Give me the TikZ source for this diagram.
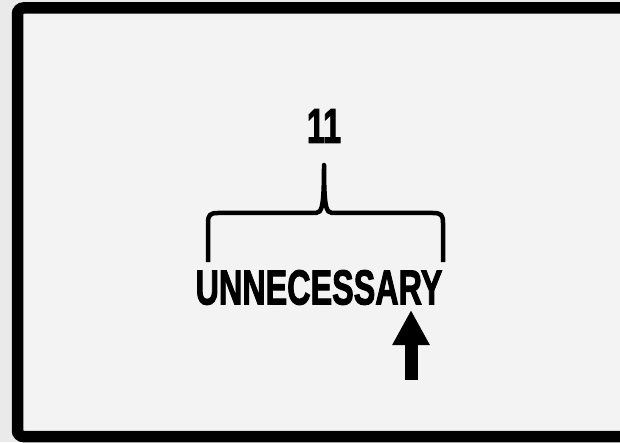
\documentclass[tikz,border=0pt]{standalone}
\usepackage{fontspec}
\setmainfont{Liberation Sans}
\newfontface\heavyface[FakeBold=2.5]{Liberation Sans Bold}
\usetikzlibrary{positioning,arrows.meta}

\definecolor{pagegray}{HTML}{EAEAEA}
\definecolor{cardgray}{HTML}{F3F3F3}

\begin{document}
\begin{tikzpicture}[x=1pt,y=1pt,
    bigword/.style={font=\fontsize{49}{49}\heavyface, xscale=0.66, inner sep=0pt}]
    \useasboundingbox (0,0) rectangle (620,442);
    \fill[pagegray] (0,0) rectangle (620,442);

    % card with thick frame
    \begin{scope}
        \clip (0,0) rectangle (620,442);
        \filldraw[fill=cardgray, line width=11.5pt, rounded corners=6pt] (17.5,5.5) rectangle (640,434);
    \end{scope}

    \node[bigword] (word) at (319,154.5) {UNNECESSARY};
    \node[bigword] (count) at (324,316) {11};

    % brace over the word
    \draw[line width=4.5pt, line join=round] (208,180) -- (208,219)
        .. controls (208,227) and (210,229) .. (218,229) -- (316,229)
        .. controls (322,229) and (324,236) .. (324,277)
        .. controls (324,236) and (326,229) .. (332,229) -- (433,229)
        .. controls (441,229) and (443,227) .. (443,219) -- (443,180);

    % arrow under the last letters
    \coordinate (arrowfoot) at (411,62);
    \coordinate (arrowtip) at (411,132);
    \draw[line width=13pt, -{Triangle[width=35pt,length=35pt]}] (arrowfoot) -- (arrowtip);
\end{tikzpicture}
\end{document}
